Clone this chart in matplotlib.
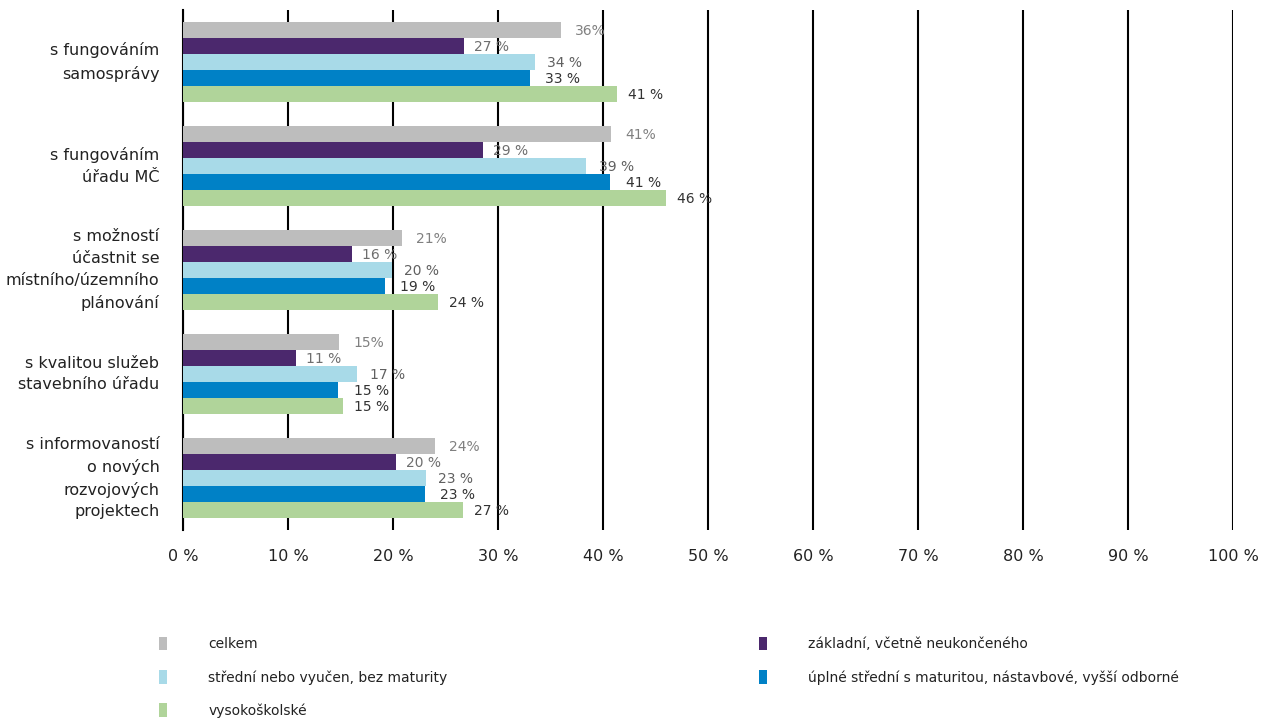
import matplotlib
matplotlib.use("Agg")
import matplotlib.pyplot as plt
import numpy as np
from matplotlib.patches import Patch

plt.rcParams['font.family'] = ['DejaVu Sans']

categories = ["s fungováním\nsamosprávy",
              "s fungováním\núřadu MČ",
              "s možností\núčastnit se\nmístního/územního\nplánování",
              "s kvalitou služeb\nstavebního úřadu",
              "s informovaností\no nových\nrozvojových\nprojektech"]
series = ["celkem",
          "základní, včetně neukončeného",
          "střední nebo vyučen, bez maturity",
          "úplné střední s maturitou, nástavbové, vyšší odborné",
          "vysokoškolské"]
celkem = [36.0, 40.8, 20.9, 14.9, 24.0]
zakladni = [26.8, 28.6, 16.1, 10.8, 20.3]
stredni = [33.5, 38.4, 19.9, 16.6, 23.1]
uplne = [33.0, 40.7, 19.2, 14.8, 23.0]
vysoko = [41.3, 46.0, 24.3, 15.2, 26.7]
labels_celkem = ["36%", "41%", "21%", "15%", "24%"]
labels_zakladni = ["27 %", "29 %", "16 %", "11 %", "20 %"]
labels_stredni = ["34 %", "39 %", "20 %", "17 %", "23 %"]
labels_uplne = ["33 %", "41 %", "19 %", "15 %", "23 %"]
labels_vysoko = ["41 %", "46 %", "24 %", "15 %", "27 %"]
xticks = [0, 10, 20, 30, 40, 50, 60, 70, 80, 90, 100]
xticklabels = ["0 %", "10 %", "20 %", "30 %", "40 %", "50 %", "60 %", "70 %", "80 %", "90 %", "100 %"]

colors = ["#BDBDBD", "#4B286D", "#A8DAE8", "#0081C6", "#B0D49A"]
label_colors = ["#808080", "#6e6e6e", "#606060", "#333333", "#333333"]
label_offsets = [10, 7, 9, 11, 8]

data = [celkem, zakladni, stredni, uplne, vysoko]
labels = [labels_celkem, labels_zakladni, labels_stredni, labels_uplne, labels_vysoko]

fig = plt.figure(figsize=(12.69, 7.2), dpi=100)
ax = fig.add_axes([183/1269, 1 - 530/720, (1233-183)/1269, 520/720])

y = np.arange(len(categories))
h = 0.154
for i, (vals, col) in enumerate(zip(data, colors)):
    pos = y + (i - 2) * h
    ax.barh(pos, vals, height=h, color=col, zorder=3, label=series[i])
    for p, v, t in zip(pos, vals, labels[i]):
        ax.annotate(t, xy=(v, p), xytext=(label_offsets[i], -0.5), textcoords="offset points",
                    ha="left", va="center", fontsize=10, color=label_colors[i], zorder=4)

ax.set_xlim(0, 100)
ax.set_ylim(4.5, -0.5)
ax.set_xticks(xticks)
ax.set_xticklabels(xticklabels, fontsize=11.5, color="#222222")
ax.set_yticks(y)
ax.set_yticklabels(categories, fontsize=11.5, color="#222222", linespacing=1.55,
                   multialignment="right", va="center")
ax.tick_params(axis="both", length=0)
ax.tick_params(axis="x", pad=14)
ax.tick_params(axis="y", pad=17)
ax.xaxis.grid(True, color="black", linewidth=1.5, zorder=0)
ax.set_axisbelow(True)
for s in ["top", "right", "bottom"]:
    ax.spines[s].set_visible(False)
ax.spines["left"].set_color("black")
ax.spines["left"].set_linewidth(1.5)


def mk(c):
    return Patch(facecolor=c, edgecolor="none")


leg_kw = dict(loc="upper left", frameon=False, fontsize=10, handlelength=0.55,
              handleheight=1.1, handletextpad=3.0, labelspacing=1.35,
              borderpad=0, borderaxespad=0, labelcolor="#222222")
fig.legend([mk(colors[0]), mk(colors[2]), mk(colors[4])],
           [series[0], series[2], series[4]],
           bbox_to_anchor=(159/1269, 1 - 637/720), **leg_kw)
fig.legend([mk(colors[1]), mk(colors[3])],
           [series[1], series[3]],
           bbox_to_anchor=(759/1269, 1 - 637/720), **leg_kw)

fig.savefig("out.png", dpi=100)
